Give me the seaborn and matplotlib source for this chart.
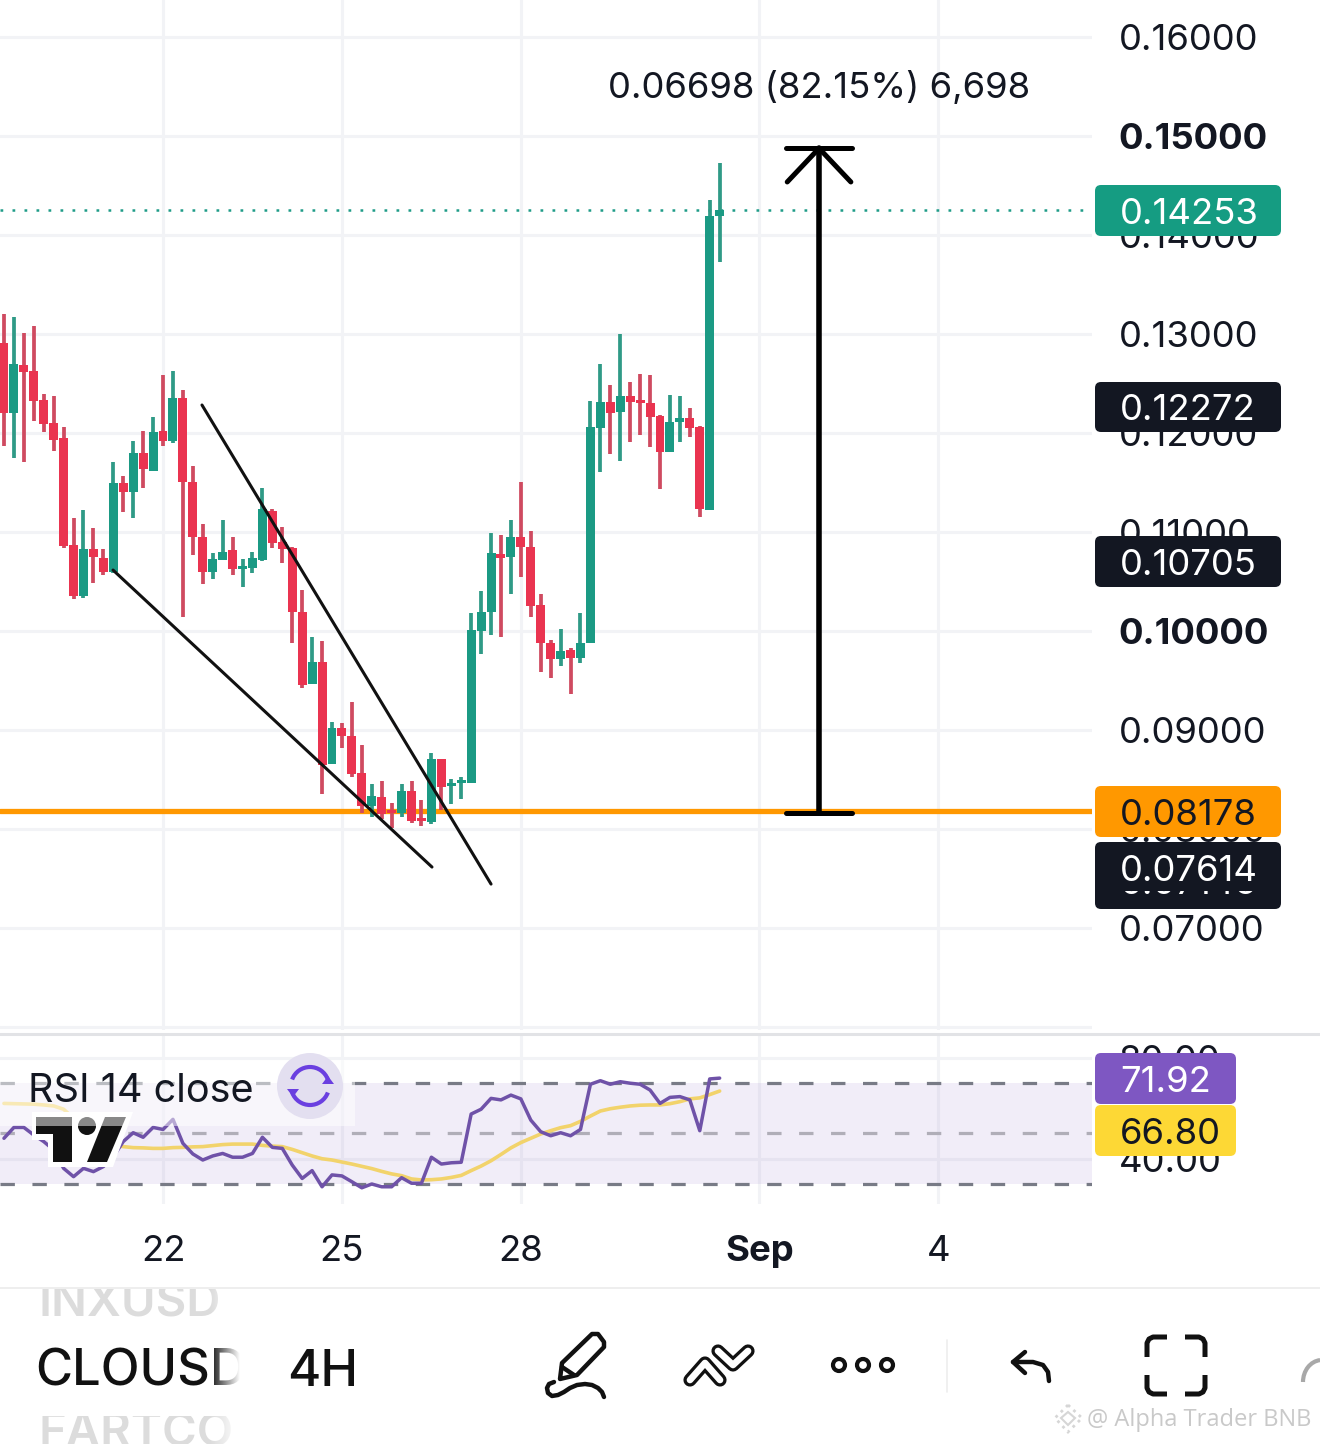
import numpy as np
import pandas as pd
import matplotlib
matplotlib.use('Agg')
import matplotlib.pyplot as plt
import seaborn as sns
from matplotlib.patches import Rectangle, FancyBboxPatch, Circle, Polygon, Arc

# candles, 4H bars, bar 0 is the 22nd
opens = [.12909,.12202,.12687,.12626,.12333,.12101,.11949,.10869,.10354,.10828,.10737,.10596,.11495,.11404,.11798,.11616,.12020,.11919,.12354,.11505,.10949,.10596,.10717,.10818,.10626,.10636,.10717,.11212,.10899,.10838,.10192,.09465,.09687,.08657,.09020,.08939,.08566,.08232,.08323,.08192,.08162,.08384,.08111,.08071,.08707,.08434,.08465,.08465,.10000,.10192,.10778,.10747,.10949,.10848,.10263,.09879,.09717,.09808,.09727,.09879,.12051,.12313,.12212,.12374,.12323,.12303,.12172,.11808,.12111,.12152,.12061,.11222,.14192]
closes = [.12202,.12697,.12616,.12323,.12091,.11929,.10859,.10354,.10828,.10747,.10596,.11495,.11404,.11798,.11636,.12010,.11919,.12354,.11505,.10949,.10596,.10727,.10798,.10626,.10657,.10737,.11232,.10889,.10828,.10192,.09455,.09687,.08646,.09020,.08939,.08556,.08232,.08333,.08152,.08162,.08384,.08081,.08081,.08707,.08424,.08465,.08485,.10010,.10192,.10788,.10737,.10949,.10848,.10253,.09879,.09717,.09798,.09727,.09879,.12061,.12313,.12202,.12374,.12313,.12303,.12162,.11808,.12111,.12152,.12051,.11232,.14192,.14253]
highs = [.13202,.13172,.13010,.13081,.12394,.12374,.12061,.11141,.11222,.11040,.10828,.11707,.11566,.11919,.12020,.12162,.12586,.12626,.12434,.11667,.11081,.10788,.11121,.10949,.10727,.10798,.11444,.11232,.11051,.10848,.10414,.09939,.09899,.09081,.09071,.09283,.08848,.08455,.08485,.08263,.08455,.08485,.08293,.08768,.08707,.08505,.08525,.10182,.10404,.10990,.10970,.11121,.11505,.11010,.10374,.09909,.10020,.09828,.10182,.12323,.12697,.12485,.13000,.12515,.12596,.12586,.12182,.12384,.12374,.12253,.12071,.14354,.14727]
lows = [.11869,.11747,.11707,.12121,.12010,.11818,.10838,.10323,.10333,.10485,.10566,.10586,.11202,.11141,.11444,.11616,.11869,.11899,.10141,.10768,.10475,.10525,.10717,.10566,.10444,.10586,.10707,.10838,.10687,.09879,.09424,.09465,.08354,.08657,.08818,.08525,.08162,.08121,.08101,.08010,.08121,.08061,.08030,.08051,.08192,.08253,.08303,.08465,.09768,.09960,.09939,.10374,.10545,.10141,.09586,.09525,.09646,.09364,.09677,.09879,.11606,.11788,.11717,.11909,.11980,.11859,.11434,.11808,.11909,.11960,.11152,.11222,.13727]

rsi = [48.1,52.4,52.4,49.4,46.8,43.5,36.2,32.9,36.2,34.9,36.9,40.8,46.8,50.3,48.5,52.4,51.6,55.6,46.1,41.9,39.5,41.1,42.1,40.6,40.6,42.1,48.5,44.5,44.1,37.5,32.2,35.3,28.9,33.6,33.2,30.9,28.5,30.0,28.9,28.9,32.5,30.3,30.3,40.6,37.9,38.4,38.6,57.7,59.6,63.9,63.3,65.2,63.7,55.3,50.7,49.1,50.3,49.1,51.6,69.5,70.9,69.5,70.5,69.9,69.5,67.2,61.9,64.3,64.6,63.3,51.1,71.6,71.92]
rsi_ma = [61.9,61.8,61.7,61.6,61.3,60.9,59.6,56.0,53.0,50.3,47.7,45.4,44.8,44.4,44.3,44.1,44.1,44.4,44.5,44.7,44.8,45.2,45.6,45.8,45.8,45.8,45.3,45.0,44.8,43.7,42.4,41.1,40.0,39.5,38.7,37.9,37.0,36.1,35.0,34.0,33.3,32.0,31.6,31.7,32.0,32.6,33.4,35.3,37.1,39.2,41.7,44.3,46.4,48.1,49.8,51.1,52.3,53.1,54.8,56.9,58.9,59.8,60.4,60.9,61.2,61.3,61.3,61.8,62.6,63.7,64.1,65.4,66.8]

price_ticks = [0.06, 0.07, 0.08, 0.09, 0.10, 0.11, 0.12, 0.13, 0.14, 0.15, 0.16]
rsi_ticks = [40, 80]
day_ticks = [0, 18, 36, 60, 78]
day_labels = ['22', '25', '28', 'Sep', '4']

last_price = 0.14253
level_price = 0.08178
wedge_upper = ([3.92, 33.0], [0.12283, 0.07444])
wedge_lower = ([-5.03, 27.06], [0.10616, 0.07616])
move_x = 66
move_top = 0.14876

GREEN = '#1b9a84'
RED = '#ea3450'
GRID = '#f2f3f6'
DARK = '#131722'
FS = 26.3

sns.set_theme(style='white')
plt.rcParams['font.family'] = ['Inter', 'DejaVu Sans']

W, H = 1320, 1444
fig = plt.figure(figsize=(W / 100, H / 100), dpi=100, facecolor='white')


def box(left, top, right, bottom):
    return [left / W, 1 - bottom / H, (right - left) / W, (bottom - top) / H]


ax = fig.add_axes(box(0, 0, 1092, 1030))
ax_rsi = fig.add_axes(box(0, 1036, 1092, 1204))
bars = np.arange(len(opens)) - 16

df = pd.DataFrame({'bar': bars, 'open': opens, 'close': closes, 'high': highs, 'low': lows,
                   'rsi': rsi, 'rsi_ma': rsi_ma})
df['up'] = df['close'] >= df['open']

for a in (ax, ax_rsi):
    a.set_xlim(-16.4, 93.46)
    a.set_xticks(day_ticks)
    a.grid(True, color=GRID, lw=2.2)
    a.set_axisbelow(True)
    sns.despine(ax=a, left=True, bottom=True, right=True, top=True)

ax.set_ylim(0.0597, 0.16374)
ax.set_yticks(price_ticks)
ax.set_yticklabels(['' if p == 0.06 else f'{p:.5f}' for p in price_ticks])
ax.tick_params(axis='y', left=False, right=False, labelleft=False, labelright=True, pad=19,
               labelsize=FS, labelcolor=DARK, length=0)
ax.tick_params(axis='x', labelbottom=False, length=0)
for lab, p in zip(ax.get_yticklabels(), price_ticks):
    if p in (0.10, 0.15):
        lab.set_fontweight('bold')

# candles
for up, col, wick in ((True, GREEN, '#2f9a86'), (False, RED, '#cf4a60')):
    d = df[df['up'] == up]
    ax.vlines(d['bar'], d['low'], d['high'], color=wick, lw=2.7, zorder=3)
    ax.bar(d['bar'], (d['close'] - d['open']).abs().clip(lower=0.0003),
           bottom=d[['open', 'close']].min(axis=1), width=0.9, color=col, lw=0, zorder=4)

ax.plot(*wedge_upper, color='#111111', lw=2.2, zorder=5)
ax.plot(*wedge_lower, color='#111111', lw=2.2, zorder=5)
ax.axhline(level_price, color='#ff9800', lw=3.8, zorder=2.6)
ax.axhline(last_price, color='#1f9c88', lw=1.8, dashes=(1.1, 3.7), zorder=2.6)

# measure arrow
ax.plot([move_x, move_x], [level_price - 0.0002, move_top], color='black', lw=4, zorder=6)
ax.plot([move_x - 3.3, move_x + 3.3], [level_price - 0.0002] * 2, color='black', lw=3.6, zorder=6)
ax.plot([move_x - 3.3, move_x + 3.3], [move_top] * 2, color='black', lw=3.6, zorder=6)
ax.plot([move_x - 3.2, move_x, move_x + 3.2], [move_top - 0.0034, move_top, move_top - 0.0034],
        color='black', lw=3.6, zorder=6)
ax.text(move_x, 0.15485, '0.06698 (82.15%) 6,698', ha='center', va='center', fontsize=FS, color=DARK)

# RSI panel
ax_rsi.set_ylim(22.08, 88.6)
ax_rsi.set_yticks(rsi_ticks)
ax_rsi.set_yticklabels([f'{v:.2f}' for v in rsi_ticks])
ax_rsi.tick_params(axis='y', left=False, right=False, labelleft=False, labelright=True, pad=19,
                   labelsize=FS, labelcolor=DARK, length=0)
ax_rsi.set_xticklabels(day_labels)
ax_rsi.tick_params(axis='x', bottom=False, pad=22.5, labelsize=FS, labelcolor=DARK, length=0)
ax_rsi.get_xticklabels()[3].set_fontweight('bold')
ax_rsi.axhspan(30, 70, color='#7e57c2', alpha=0.1, lw=0, zorder=1)
ax_rsi.axhline(70, color='#787b86', lw=2.3, dashes=(4.5, 5.5), zorder=2)
ax_rsi.axhline(50, color='#b0aeb8', lw=2.3, dashes=(4.5, 5.5), zorder=2)
ax_rsi.axhline(30, color='#787b86', lw=2.3, dashes=(4.5, 5.5), zorder=2)
sns.lineplot(data=df, x='bar', y='rsi_ma', color='#f2d36b', lw=2.6, ax=ax_rsi, zorder=3)
sns.lineplot(data=df, x='bar', y='rsi', color='#6f52a8', lw=2.5, ax=ax_rsi, zorder=4)
ax_rsi.set_xlabel('')
ax_rsi.set_ylabel('')
ax.set_xlabel('')

# overlay in pixel coordinates for the app chrome
ovr = fig.add_axes([0, 0, 1, 1], facecolor='none')
ovr.axis('off')


def to_px(a, v):
    return H - a.transData.transform((0, v))[1]


def badge(left, top, right, bottom, col):
    ovr.add_patch(FancyBboxPatch((left + 6, top + 6), right - left - 12, bottom - top - 12,
                                 boxstyle='round,pad=6,rounding_size=6', fc=col, ec='none', zorder=5))


ovr.plot([0, W], [1034, 1034], color='#e2e3e6', lw=2.2, zorder=1)
ovr.plot([0, W], [1288, 1288], color='#eeeeee', lw=1.4, zorder=1)

for val, top, bottom, col, tc in [(0.14253, 185, 236, '#159c82', 'white'),
                                  (0.12272, 382, 432, DARK, 'white'),
                                  (0.10705, 536, 587, DARK, 'white'),
                                  (0.08178, 786, 837, '#ff9800', DARK),
                                  (0.07614, 842, 909, DARK, 'white')]:
    badge(1095, top, 1281, bottom, col)
    ovr.text(1120, to_px(ax, val) + 4.5, f'{val:.5f}', color=tc, fontsize=FS, va='center', ha='left', zorder=6)

hidden = ovr.text(1120, 885, '0.07145', color='white', fontsize=FS, va='center', ha='left', zorder=6)
hidden.set_clip_on(True)
hidden.set_clip_path(Rectangle((1095, 891), 186, 10, transform=ovr.transData))

for val, top, bottom, col, tc in [(71.92, 1053, 1104, '#7e57c2', 'white'),
                                  (66.80, 1105, 1156, '#fdd835', DARK)]:
    badge(1095, top, 1236, bottom, col)
    ovr.text(1120, (top + bottom) / 2 + 3.5, f'{val:.2f}', color=tc, fontsize=FS, va='center', ha='left', zorder=6)

# TradingView mark and RSI legend
ovr.add_patch(Polygon([(32, 1112), (133, 1112), (113, 1167), (48, 1167), (48, 1140), (32, 1140)],
                      fc='white', ec='none', zorder=6))
ovr.add_patch(Polygon([(36, 1117), (72, 1117), (72, 1162), (53, 1162), (53, 1134), (36, 1134)],
                      fc='#111111', ec='none', zorder=7))
ovr.add_patch(Circle((87, 1126), 9, fc='#111111', ec='none', zorder=7))
ovr.add_patch(Polygon([(105, 1117), (126, 1117), (107, 1162), (87, 1162)], fc='#111111', ec='none', zorder=7))
ovr.add_patch(Rectangle((0, 1060), 355, 66, fc='white', ec='none', alpha=0.5, zorder=8))
ovr.text(28, 1091, 'RSI 14 close', fontsize=28.5, color=DARK, va='center', ha='left', zorder=9)
ovr.add_patch(Circle((310, 1086), 33, fc='#e3dff0', ec='none', zorder=9))
ovr.add_patch(Arc((310, 1086), 38, 38, theta1=200, theta2=340, ec='#6a3fe0', lw=3, zorder=10))
ovr.add_patch(Arc((310, 1086), 38, 38, theta1=20, theta2=160, ec='#6a3fe0', lw=3, zorder=10))
ovr.add_patch(Polygon([(322, 1084), (334, 1084), (328, 1076)], fc='#6a3fe0', ec='none', zorder=10))
ovr.add_patch(Polygon([(287, 1089), (299, 1089), (293, 1097)], fc='#6a3fe0', ec='none', zorder=10))

# bottom toolbar
ovr.text(35, 1372, 'CLOUSD', fontsize=36.5, fontweight='medium', color='#111111', va='center', ha='left', zorder=3)
ovr.text(287, 1372, '4H', fontsize=36.5, fontweight='medium', color='#111111', va='center', ha='left', zorder=3)
t1 = ovr.text(38, 1304, 'INXUSD', fontsize=34, fontweight='semibold', color='#dcdcdc', va='center', ha='left', zorder=3)
t1.set_clip_on(True)
t1.set_clip_path(Rectangle((0, 1289), 400, 40, transform=ovr.transData))
t2 = ovr.text(38, 1434, 'FARTCO', fontsize=34, fontweight='semibold', color='#dcdcdc', va='center', ha='left', zorder=3)
t2.set_clip_on(True)
t2.set_clip_path(Rectangle((0, 1416), 400, 28, transform=ovr.transData))
fade = np.ones((2, 64, 4))
fade[:, :, 3] = np.linspace(0, 1, 64)
ovr.imshow(fade, extent=(210, 240, 1444, 1289), aspect='auto', zorder=4)
ovr.add_patch(Rectangle((240, 1289), 30, 155, fc='white', ec='none', zorder=4))

ink = dict(color='#111111', lw=3.2, solid_capstyle='round', solid_joinstyle='round', zorder=6)
ovr.add_patch(Polygon([(560, 1379), (562, 1363), (592, 1334), (598, 1334), (604, 1342), (604, 1347), (577, 1375)],
                      fc='none', ec='#111111', lw=3.2, joinstyle='round', zorder=6))
ovr.plot([562, 574], [1367, 1375], **ink)
ovr.plot([554, 549, 547, 548, 552, 558, 564, 570, 577, 585, 592, 598, 602, 604],
         [1382, 1384, 1388, 1393, 1396, 1395, 1392, 1388, 1385, 1384, 1385, 1388, 1392, 1397], **ink)

for xs, ys in [([690, 705, 720], [1380, 1363, 1380]), ([718, 733, 748], [1351, 1365, 1351])]:
    ovr.plot(xs, ys, color='#111111', lw=9.5, solid_capstyle='round', solid_joinstyle='round', zorder=6)
    ovr.plot(xs, ys, color='white', lw=4.8, solid_capstyle='round', solid_joinstyle='round', zorder=7)

for cx in (839, 863, 887):
    ovr.add_patch(Circle((cx, 1365), 6, fc='none', ec='#111111', lw=3, zorder=6))
ovr.plot([947, 947], [1340, 1392], color='#eeeeee', lw=1.2, zorder=2)

ovr.plot([1013, 1033, 1043, 1048, 1049], [1362, 1362, 1365, 1372, 1381], **ink)
ovr.plot([1025, 1013, 1025], [1352, 1362, 1373], **ink)

cor = dict(color='#111111', lw=3.6, solid_capstyle='butt', solid_joinstyle='round', zorder=6)
ovr.plot([1147, 1147, 1149, 1153, 1167], [1357, 1343, 1339, 1337, 1337], **cor)
ovr.plot([1185, 1199, 1203, 1205, 1205], [1337, 1337, 1339, 1343, 1357], **cor)
ovr.plot([1147, 1147, 1149, 1153, 1167], [1375, 1388, 1392, 1394, 1394], **cor)
ovr.plot([1185, 1199, 1203, 1205, 1205], [1394, 1394, 1392, 1388, 1375], **cor)
ovr.add_patch(Arc((1322, 1382), 38, 44, theta1=180, theta2=265, ec='#a8a8a8', lw=3, zorder=6))

# watermark
ovr.add_patch(Polygon([(1068, 1405), (1082, 1418), (1068, 1432), (1055, 1418)], fc='none', ec='#d6d6d6',
                      lw=2, ls=':', zorder=6))
ovr.add_patch(Polygon([(1068, 1412), (1075, 1418), (1068, 1425), (1061, 1418)], fc='none', ec='#d6d6d6', lw=1.5, zorder=6))
ovr.text(1087, 1420, '@ Alpha Trader BNB', fontsize=17, color='#c9c9c9', va='center', ha='left',
         family=['Open Sans', 'DejaVu Sans'], zorder=6)

ovr.set_xlim(0, W)
ovr.set_ylim(H, 0)

fig.savefig('out.png', dpi=100)
